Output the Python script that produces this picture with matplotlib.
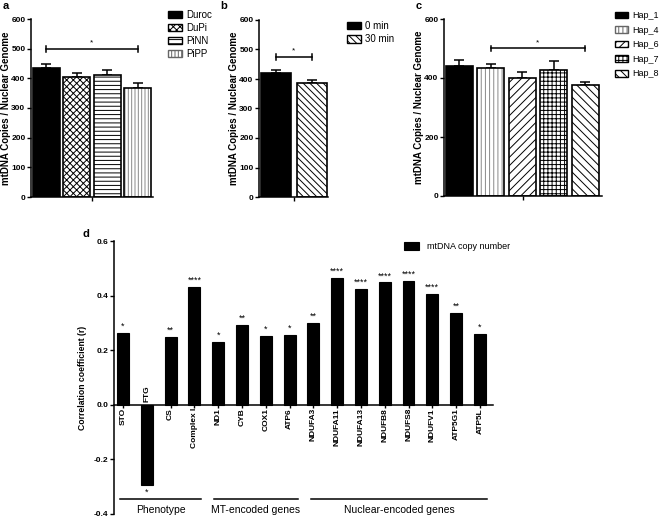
import matplotlib
matplotlib.use("Agg")
import matplotlib.pyplot as plt
from matplotlib.patches import Patch

plt.rcParams["font.family"] = ["Liberation Sans", "DejaVu Sans"]
plt.rcParams["hatch.linewidth"] = 0.7
plt.rcParams["axes.linewidth"] = 1.1

# ---------- data ----------
breeds = ["Duroc", "DuPi", "PiNN", "PiPP"]
breed_vals = [435, 405, 410, 368]
breed_err = [14, 14, 17, 15]
breed_hatch = ["", "xxxxx", "----", "|||||"]

times = ["0 min", "30 min"]
time_vals = [420, 388]
time_err = [12, 8]
time_hatch = ["", "\\\\\\\\\\"]

haps = ["Hap_1", "Hap_4", "Hap_6", "Hap_7", "Hap_8"]
hap_vals = [440, 435, 400, 428, 375]
hap_err = [22, 13, 22, 30, 12]
hap_hatch = ["", "||||", "////", "++++", "\\\\\\\\"]

genes = ["STO", "FTG", "CS", "Complex I", "ND1", "CYB", "COX1", "ATP6",
         "NDUFA3", "NDUFA11", "NDUFA13", "NDUFB8", "NDUFS8", "NDUFV1",
         "ATP5G1", "ATP5L"]
corr = [0.262, -0.293, 0.249, 0.43, 0.23, 0.293, 0.253, 0.255,
        0.301, 0.464, 0.425, 0.448, 0.454, 0.405, 0.338, 0.259]
stars = ["*", "*", "**", "****", "*", "**", "*", "*",
         "**", "****", "****", "****", "****", "****", "**", "*"]
groups = ["Phenotype", "MT-encoded genes", "Nuclear-encoded genes"]

W, H = 660, 519
fig = plt.figure(figsize=(6.6, 5.19), dpi=100)


def px_axes(l, t, r, b):
    return fig.add_axes([l / W, 1 - b / H, (r - l) / W, (b - t) / H])


def style_ax(ax):
    for s in ["top", "right"]:
        ax.spines[s].set_visible(False)
    ax.tick_params(axis="y", labelsize=6, length=3, width=1.0, pad=1)
    for lab in ax.get_yticklabels():
        lab.set_fontweight("bold")


def bar_panel(ax, names, vals, errs, hatches, width, xlim, yticks):
    x = list(range(len(vals)))
    for i in x:
        gray = hatches[i] and hatches[i][0] == "|"
        ax.bar(i, vals[i], width, color="white" if hatches[i] else "black",
               hatch=hatches[i], edgecolor="#888888" if gray else "black",
               linewidth=0, zorder=2)
        ax.bar(i, vals[i], width, fill=False, edgecolor="black", linewidth=1.2,
               zorder=3)
    ax.errorbar(x, vals, yerr=[[0] * len(vals), errs], fmt="none",
                ecolor="black", elinewidth=1.1, capsize=3.3, capthick=1.1,
                zorder=1)
    ax.set_xlim(*xlim)
    ax.set_ylim(0, 600)
    ax.set_yticks(yticks)
    ax.set_xticks([(xlim[0] + xlim[1]) / 2])
    ax.set_xticklabels([""])
    ax.tick_params(axis="x", length=3, width=1.0)
    ax.set_ylabel("mtDNA Copies / Nuclear Genome", fontsize=7,
                  fontweight="bold", labelpad=0)
    style_ax(ax)


def legend_handles(hatches):
    hs = []
    for h in hatches:
        gray = h and h[0] == "|"
        hs.append(Patch(facecolor="white" if h else "black", hatch=h,
                        edgecolor="#666666" if gray else "black",
                        linewidth=1.0))
    return hs


def add_legend(hatches, names, x, y, fs=7, spacing=0.3):
    fig.legend(legend_handles(hatches), names, loc="upper left",
               bbox_to_anchor=(x / W, 1 - y / H), frameon=False, fontsize=fs,
               handlelength=1.45, handleheight=0.75, labelspacing=spacing,
               handletextpad=0.45, borderpad=0, borderaxespad=0)


def sig(ax, x0, x1, y, tick=10):
    ax.plot([x0, x1], [y, y], color="black", lw=1.1)
    ax.plot([x0, x0], [y - tick, y + tick], color="black", lw=1.1)
    ax.plot([x1, x1], [y - tick, y + tick], color="black", lw=1.1)
    ax.text((x0 + x1) / 2, y + 8, "*", ha="center", va="bottom", fontsize=6)


# ---------- panel a ----------
ax_a = px_axes(31, 19, 153, 197)
bar_panel(ax_a, breeds, breed_vals, breed_err, breed_hatch, 0.89,
          (-0.51, 3.51), [0, 100, 200, 300, 400, 500, 600])
sig(ax_a, 0, 3, 500)
add_legend(breed_hatch, breeds, 168, 10, fs=7, spacing=0.3)

# ---------- panel b ----------
ax_b = px_axes(259, 20, 328, 197)
bar_panel(ax_b, times, time_vals, time_err, time_hatch, 0.84,
          (-0.48, 1.46), [0, 100, 200, 300, 400, 500, 600])
sig(ax_b, 0, 1, 475)
add_legend(time_hatch, times, 347, 21, fs=7, spacing=0.35)

# ---------- panel c ----------
ax_c = px_axes(444, 19, 602, 196)
bar_panel(ax_c, haps, hap_vals, hap_err, hap_hatch, 0.86,
          (-0.49, 4.54), [0, 200, 400, 600])
sig(ax_c, 1, 4, 500)
add_legend(hap_hatch, haps, 615, 11, fs=6.5, spacing=0.62)

# ---------- panel d ----------
ax_d = px_axes(114, 241, 493, 514)
xd = list(range(len(corr)))
ax_d.bar(xd, corr, 0.5, color="black", edgecolor="black", linewidth=0.8,
         label="mtDNA copy number", zorder=2)
ax_d.set_xlim(-0.38, 15.55)
ax_d.set_ylim(-0.4, 0.6)
ax_d.set_yticks([-0.4, -0.2, 0.0, 0.2, 0.4, 0.6])
ax_d.set_yticklabels(["-0.4", "-0.2", "0.0", "0.2", "0.4", "0.6"])
ax_d.spines["bottom"].set_position(("data", 0))
ax_d.set_xticks(xd)
ax_d.set_xticklabels([""] * len(xd))
ax_d.tick_params(axis="x", length=2.5, width=1.0)
style_ax(ax_d)
ax_d.set_ylabel("Correlation coefficient (r)", fontsize=6.2,
                fontweight="bold", labelpad=5)
for i, (v, g, s) in enumerate(zip(corr, genes, stars)):
    if v >= 0:
        ax_d.text(i, -0.012, g, rotation=90, ha="center", va="top",
                  fontsize=6, fontweight="bold")
        ax_d.text(i, v + 0.008, s, ha="center", va="bottom", fontsize=6.5)
    else:
        ax_d.text(i, 0.012, g, rotation=90, ha="center", va="bottom",
                  fontsize=6, fontweight="bold")
        ax_d.text(i, v - 0.012, s, ha="center", va="top", fontsize=6.5)

spans = [(-0.13, 3.28), (3.82, 7.35), (7.9, 15.3)]
for (x0, x1), name in zip(spans, groups):
    ax_d.plot([x0, x1], [-0.344, -0.344], color="black", lw=1.1,
              clip_on=False)
    ax_d.text((x0 + x1) / 2, -0.385, name, ha="center", va="center",
              fontsize=7.5)

fig.legend(*ax_d.get_legend_handles_labels(), loc="upper left",
           bbox_to_anchor=(404 / W, 1 - 242 / H), frameon=False,
           fontsize=6.5, handlelength=1.7, handleheight=0.9,
           handletextpad=0.8, borderpad=0, borderaxespad=0)

# ---------- panel letters ----------
for lab, (px, py) in zip("abcd", [(6, 6), (224, 6), (419, 6), (86, 234)]):
    fig.text(px / W, 1 - py / H, lab, fontsize=8, fontweight="bold",
             ha="center", va="center")

fig.savefig("out.png", dpi=100)
